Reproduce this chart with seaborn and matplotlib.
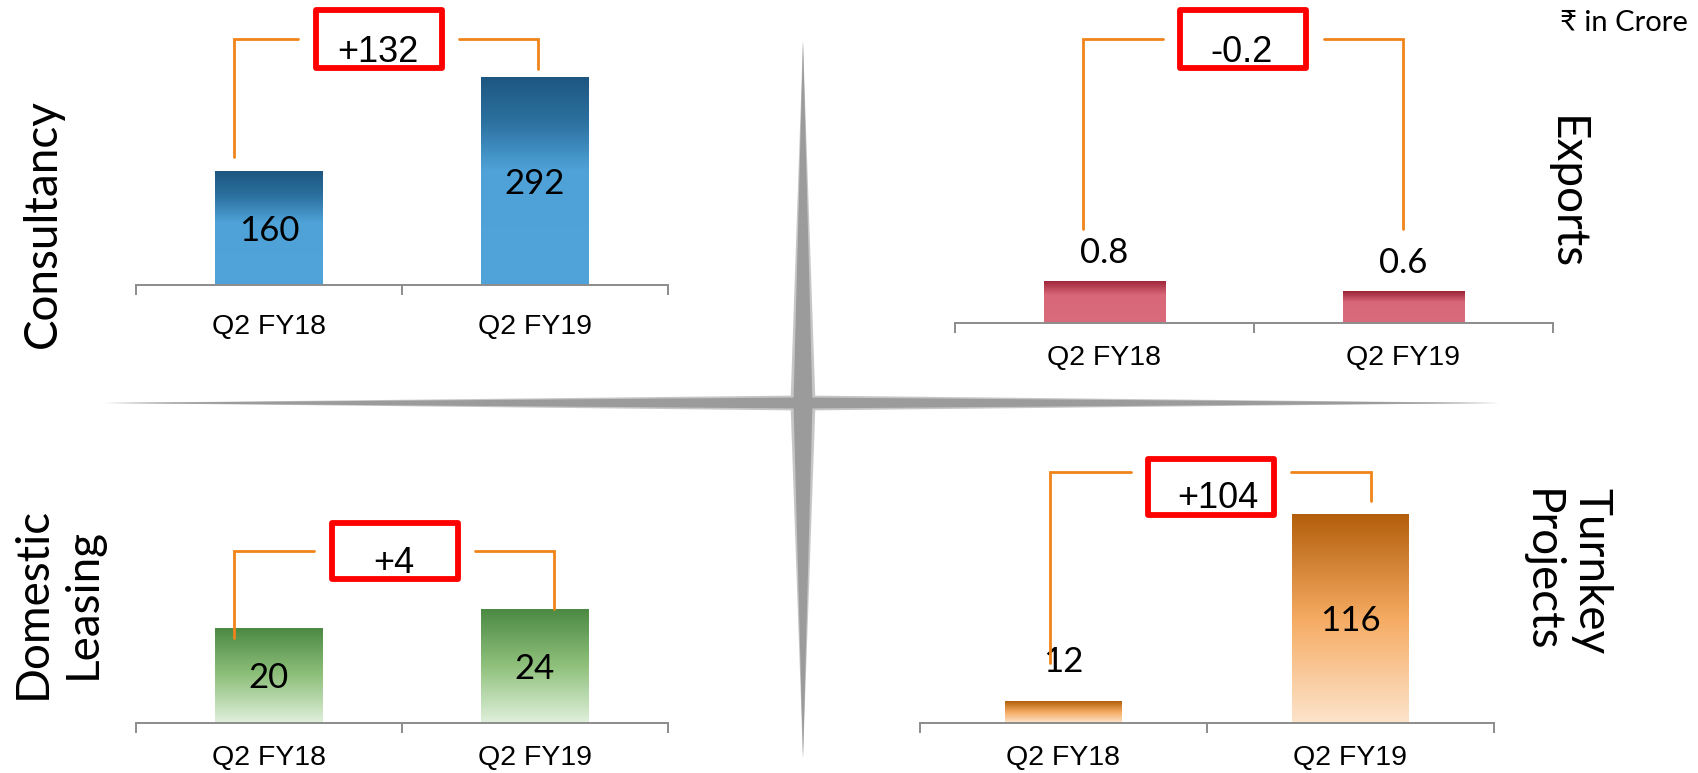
import numpy as np
import pandas as pd
import matplotlib
matplotlib.use("Agg")
import matplotlib.pyplot as plt
import seaborn as sns
from matplotlib.colors import LinearSegmentedColormap
from matplotlib.patches import Rectangle, Polygon

# ---------------------------------------------------------------- data
periods = ["Q2 FY18", "Q2 FY19"]
consultancy = [160, 292]
exports = [0.8, 0.6]
domestic_leasing = [20, 24]
turnkey_projects = [12, 116]

segment_titles = ["Consultancy", "Exports", "Domestic\nLeasing", "Turnkey\nProjects"]
unit_note = "\u20b9 in Crore"

# ---------------------------------------------------------------- setup
W, H = 1699, 773
sns.set_theme(style="white")
plt.rcParams["font.family"] = ["Lato", "Noto Sans", "DejaVu Sans"]

TITLE_FONT = ["Lato", "Noto Sans", "DejaVu Sans"]
ARIAL = ["Liberation Sans", "DejaVu Sans"]
AXIS_GREY = "#8c8c8c"
BRACKET = "#f0841a"
BOX_RED = "#ff0000"

fig = plt.figure(figsize=(W / 100, H / 100), dpi=100)
fig.patch.set_facecolor("white")


def px_axes(left, right, top, base):
    """Axes placed by pixel edges (y measured from the top of the figure)."""
    return fig.add_axes([left / W, 1 - base / H, (right - left) / W, (base - top) / H])


panels = [
    dict(values=consultancy, title=segment_titles[0],
         frame=(136, 668, 0, 285), ymax=400,
         stops=[(0.0, "#1d5680"), (0.22, "#2c71a0"), (0.45, "#4ea2d7"), (1.0, "#50a4d9")],
         above_px=28, pad=21),
    dict(values=exports, title=segment_titles[1],
         frame=(955, 1553, 0, 323), ymax=6.1,
         stops=[(0.0, "#9c2236"), (0.35, "#d86879"), (1.0, "#da6b7c")],
         above_px=28, pad=16),
    dict(values=domestic_leasing, title=segment_titles[2],
         frame=(136, 668, 440, 723), ymax=59.6,
         stops=[(0.0, "#4c8943"), (0.5, "#8fc17c"), (1.0, "#e0f0dc")],
         above_px=30, pad=16),
    dict(values=turnkey_projects, title=segment_titles[3],
         frame=(920, 1494, 440, 723), ymax=157.2,
         stops=[(0.0, "#b35e0b"), (0.5, "#f5ab62"), (1.0, "#fde4cc")],
         above_px=39, pad=16),
]

ramp = np.linspace(0, 1, 256).reshape(-1, 1)

for p in panels:
    left, right, top, base = p["frame"]
    ax = px_axes(left, right, top, base)
    df = pd.DataFrame({"period": periods, "value": p["values"]})
    sns.barplot(data=df, x="period", y="value", ax=ax, width=0.405,
                color="#888888", saturation=1, linewidth=0, errorbar=None)
    cmap = LinearSegmentedColormap.from_list("bar_ramp", p["stops"])

    # vertical colour ramp inside every bar
    for bar in ax.patches:
        x0, w, h = bar.get_x(), bar.get_width(), bar.get_height()
        im = ax.imshow(ramp, cmap=cmap, extent=[x0, x0 + w, 0, h], origin="upper",
                       aspect="auto", zorder=bar.get_zorder() + 0.1, interpolation="bilinear")
        im.set_clip_path(bar)
        bar.set_facecolor("none")

    ax.set_xlim(-0.5, 1.5)
    ax.set_ylim(0, p["ymax"])
    ax.set_xlabel("")
    ax.set_ylabel("")
    ax.set_yticks([])
    for side in ("left", "top", "right"):
        ax.spines[side].set_visible(False)
    ax.spines["bottom"].set_color(AXIS_GREY)
    ax.spines["bottom"].set_linewidth(1.4)
    ax.patch.set_alpha(0)

    ax.set_xticks([0, 1])
    ax.set_xticklabels(periods, fontfamily=ARIAL, fontsize=20.5, color="black")
    ax.set_xticks([-0.5, 0.5, 1.5], minor=True)
    ax.tick_params(axis="x", which="major", length=0, pad=p["pad"])
    ax.tick_params(axis="x", which="minor", bottom=True, length=7, width=1.4,
                   color=AXIS_GREY, direction="out")

    # value labels: centred inside tall bars, above short ones
    px_per_unit = (base - top) / p["ymax"]
    for i, v in enumerate(p["values"]):
        label = f"{v:g}"
        if v * px_per_unit > 60:
            ax.annotate(label, (i, v / 2), xytext=(0, -2), textcoords="offset points",
                        ha="center", va="center", fontsize=25, fontfamily=TITLE_FONT,
                        color="black", zorder=5)
        else:
            ax.annotate(label, (i, v), xytext=(0, p["above_px"] * 0.72),
                        textcoords="offset points", ha="center", va="center",
                        fontsize=25, fontfamily=TITLE_FONT, color="black")

# ---------------------------------------------------------------- overlay
ov = fig.add_axes([0, 0, 1, 1])
ov.set_xlim(0, W)
ov.set_ylim(H, 0)
ov.axis("off")
ov.patch.set_alpha(0)

# four-pointed divider star
cx, cy = 803, 403
v_top, v_bot, h_left, h_right = 41, 758, 105, 1499
for half_v, half_h, col in [(12.5, 7.5, "#c6c6c6"), (9.5, 5.5, "#9b9b9b")]:
    ov.add_patch(Polygon([(cx, v_top), (cx + half_v, cy), (cx, v_bot), (cx - half_v, cy)],
                         closed=True, facecolor=col, edgecolor="none", zorder=1))
    ov.add_patch(Polygon([(h_left, cy), (cx, cy - half_h), (h_right, cy), (cx, cy + half_h)],
                         closed=True, facecolor=col, edgecolor="none", zorder=1))

# change call-outs: bracket lines plus red boxed delta
callouts = [
    dict(left=[(234, 157), (234, 39), (298, 39)], right=[(459, 39), (538, 39), (538, 69)],
         box=(316, 10, 442, 68), text=(378, 62)),
    dict(left=[(1083, 229), (1083, 39), (1163, 39)], right=[(1324, 39), (1403, 39), (1403, 229)],
         box=(1180, 10, 1306, 68), text=(1242, 62)),
    dict(left=[(234, 638), (234, 551), (314, 551)], right=[(475, 551), (554, 551), (554, 609)],
         box=(332, 523, 458, 579), text=(394, 573)),
    dict(left=[(1050, 663), (1050, 472), (1131, 472)], right=[(1291, 472), (1371, 472), (1371, 501)],
         box=(1148, 459, 1274, 515), text=(1218, 508)),
]

for p, c in zip(panels, callouts):
    for seg in (c["left"], c["right"]):
        xs, ys = zip(*seg)
        ov.plot(xs, ys, color=BRACKET, lw=2.0, solid_joinstyle="miter", zorder=6)
    x0, y0, x1, y1 = c["box"]
    ov.add_patch(Rectangle((x0, y0), x1 - x0, y1 - y0, facecolor="white", edgecolor=BOX_RED,
                           lw=4.2, joinstyle="round", zorder=7))
    delta = p["values"][1] - p["values"][0]
    ov.text(c["text"][0], c["text"][1], f"{delta:+.3g}", ha="center", va="baseline",
            fontsize=26, fontfamily=ARIAL, color="black", zorder=8)

# segment titles
ov.text(43, 224, segment_titles[0], rotation=90, ha="center", va="center",
        fontsize=33, fontfamily=TITLE_FONT, color="black")
ov.text(1566, 193, segment_titles[1], rotation=270, ha="center", va="center",
        fontsize=33, fontfamily=TITLE_FONT, color="black")
ov.text(58, 603, segment_titles[2], rotation=90, ha="center", va="center",
        multialignment="center", linespacing=1.25,
        fontsize=33, fontfamily=TITLE_FONT, color="black")
ov.text(1566, 571, segment_titles[3], rotation=270, ha="center", va="center",
        multialignment="center", linespacing=1.25,
        fontsize=33, fontfamily=TITLE_FONT, color="black")

ov.text(1624, 23, unit_note, ha="center", va="center", fontsize=21,
        fontfamily=TITLE_FONT, color="black")

fig.savefig("out.png", dpi=100, facecolor="white")
